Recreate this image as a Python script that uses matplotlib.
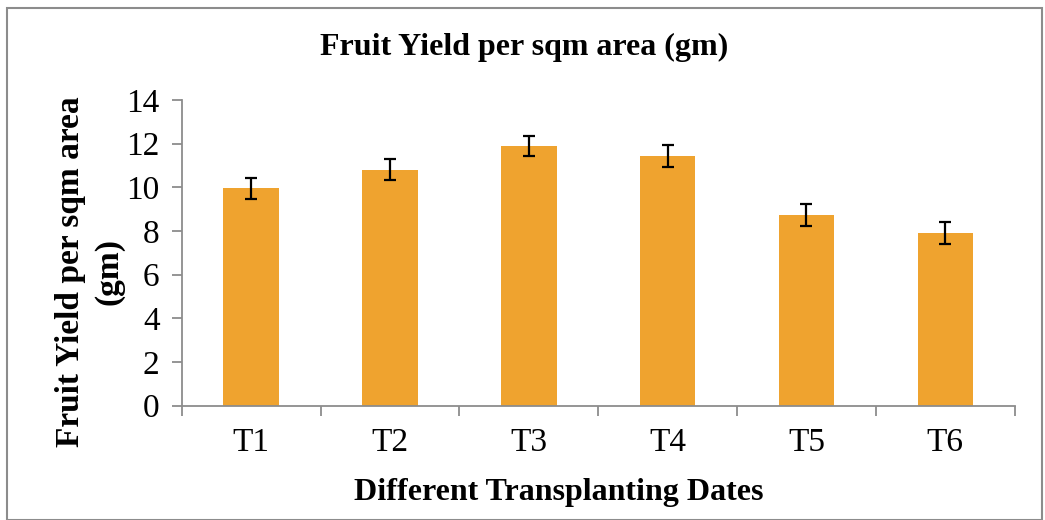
import matplotlib.pyplot as plt
from matplotlib.patches import Rectangle
import numpy as np

plt.rcParams['font.family'] = ['Liberation Serif', 'DejaVu Serif']

dates = ['T1', 'T2', 'T3', 'T4', 'T5', 'T6']
yield_gm = [9.95, 10.81, 11.89, 11.43, 8.73, 7.91]
err = [0.47, 0.47, 0.47, 0.5, 0.5, 0.5]

fig = plt.figure(figsize=(10.45, 5.2), dpi=100)
ax = fig.add_axes([0.174, 0.22, 0.797, 0.588])

x = np.arange(len(dates))
ax.bar(x, yield_gm, width=0.4, color='#EFA32F', zorder=2)
ax.errorbar(x, yield_gm, yerr=err, fmt='none', ecolor='black',
            elinewidth=1.6, capsize=4.5, capthick=1.6, zorder=3)

ax.set_xlim(-0.5, len(dates) - 0.5)
ax.set_ylim(0, 14)
ax.set_yticks(range(0, 15, 2))
ax.set_xticks(x)
ax.set_xticklabels(dates)
ax.set_xticks(np.arange(-0.5, len(dates)), minor=True)
ax.tick_params(axis='x', which='major', length=0, labelsize=24, pad=16)
ax.tick_params(axis='x', which='minor', length=7, width=1.3, color='#8c8c8c', direction='out')
ax.tick_params(axis='y', length=7, width=1.3, color='#8c8c8c', labelsize=24, pad=9)

for s in ['top', 'right']:
    ax.spines[s].set_visible(False)
for s in ['left', 'bottom']:
    ax.spines[s].set_color('#8c8c8c')
    ax.spines[s].set_linewidth(1.3)

fig.text(0.502, 0.909, 'Fruit Yield per sqm area (gm)', fontsize=23, fontweight='bold',
         ha='center', va='center')
fig.text(0.535, 0.052, 'Different Transplanting Dates', fontsize=23, fontweight='bold',
         ha='center', va='center')
fig.text(0.086, 0.477, 'Fruit Yield per sqm area\n(gm)', fontsize=24, fontweight='bold',
         rotation=90, ha='center', va='center', multialignment='center', linespacing=1.3)

fig.patches.append(Rectangle((0.007, 0.0), 0.99, 0.985, transform=fig.transFigure,
                             fill=False, edgecolor='#8c8c8c', linewidth=1.5))

fig.savefig('out.png', dpi=100)
